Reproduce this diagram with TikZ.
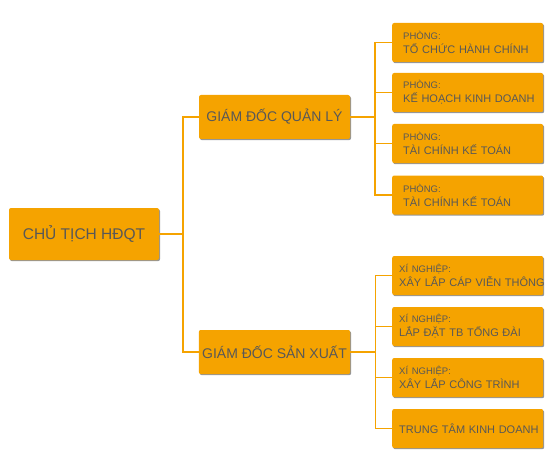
\documentclass[tikz,border=0pt]{standalone}
\usepackage{fontspec}
\setmainfont{Liberation Sans}
\usepackage{tikz}
\usetikzlibrary{
    positioning,
    shadows
}
\definecolor{boxC}{RGB}{245,163,0}
\definecolor{txtC}{RGB}{88,88,88}
\definecolor{shdC}{RGB}{150,150,150}
\tikzset{
  box/.style   = {fill=boxC, rounded corners=2pt, text=txtC,
                  drop shadow={shadow xshift=1pt, shadow yshift=-1.2pt,
                               fill=shdC, opacity=1}},
  root/.style  = {box, minimum width=150pt, minimum height=52pt,
                  font=\fontsize{15.5}{18}\selectfont},
  head/.style  = {box, minimum width=151pt, minimum height=44pt,
                  font=\fontsize{14}{17}\selectfont},
  leaf/.style  = {box, anchor=west, minimum height=39pt, align=left,
                  inner xsep=11pt, text width=129pt,
                  font=\fontsize{11}{14}\selectfont},
  leafx/.style = {leaf, inner xsep=7pt, text width=137pt},
  link/.style  = {boxC, line width=1.6pt}
}
\newcommand{\sublbl}[1]{{\fontsize{9.5}{12}\selectfont #1}}
\newcommand{\leaftxt}[2]{\sublbl{#1}\\\mbox{#2}}

\begin{document}
\begin{tikzpicture}[x=1pt, y=1pt]
  \useasboundingbox (0,0) rectangle (554,-468);

  %% ── Chủ tịch ──────────────────────────────────────────────────
  \node[root] (ct) at (84,-234) {CHỦ TỊCH HĐQT};

  %% ── Giám đốc ──────────────────────────────────────────────────
  \node[head] (ql) at (274.5,-117) {GIÁM ĐỐC QUẢN LÝ};
  \node[head] (sx) at (274.5,-352) {GIÁM ĐỐC SẢN XUẤT};

  %% ── Phòng (under GĐ quản lý) ──────────────────────────────────
  \node[leaf] (p1) at (392,-42.5)  {\leaftxt{PHÒNG:}{TỔ CHỨC HÀNH CHÍNH}};
  \node[leaf] (p2) at (392,-92.5)  {\leaftxt{PHÒNG:}{KẾ HOẠCH KINH DOANH}};
  \node[leaf] (p3) at (392,-143.5) {\leaftxt{PHÒNG:}{TÀI CHÍNH KẾ TOÁN}};
  \node[leaf] (p4) at (392,-195)   {\leaftxt{PHÒNG:}{TÀI CHÍNH KẾ TOÁN}};

  %% ── Xí nghiệp (under GĐ sản xuất) ─────────────────────────────
  \node[leafx] (x1) at (392,-275.5) {\leaftxt{XÍ NGHIỆP:}{XÂY LẮP CÁP VIỄN THÔNG}};
  \node[leafx] (x2) at (392,-326.5) {\leaftxt{XÍ NGHIỆP:}{LẮP ĐẶT TB TỔNG ĐÀI}};
  \node[leafx] (x3) at (392,-377.5) {\leaftxt{XÍ NGHIỆP:}{XÂY LẮP CÔNG TRÌNH}};
  \node[leafx] (x4) at (392,-428.5) {\mbox{TRUNG TÂM KINH DOANH}};

  %% ── Connectors ────────────────────────────────────────────────
  \foreach \g in {ql,sx}
    \draw[link] (ct.east) -- ++(24,0) |- (\g.west);
  \foreach \p in {p1,p2,p3,p4}
    \draw[link] (ql.east) -- ++(25,0) |- (\p.west);
  \foreach \p in {x1,x2,x3,x4}
    \draw[link] (sx.east) -- ++(25,0) |- (\p.west);

\end{tikzpicture}
\end{document}
